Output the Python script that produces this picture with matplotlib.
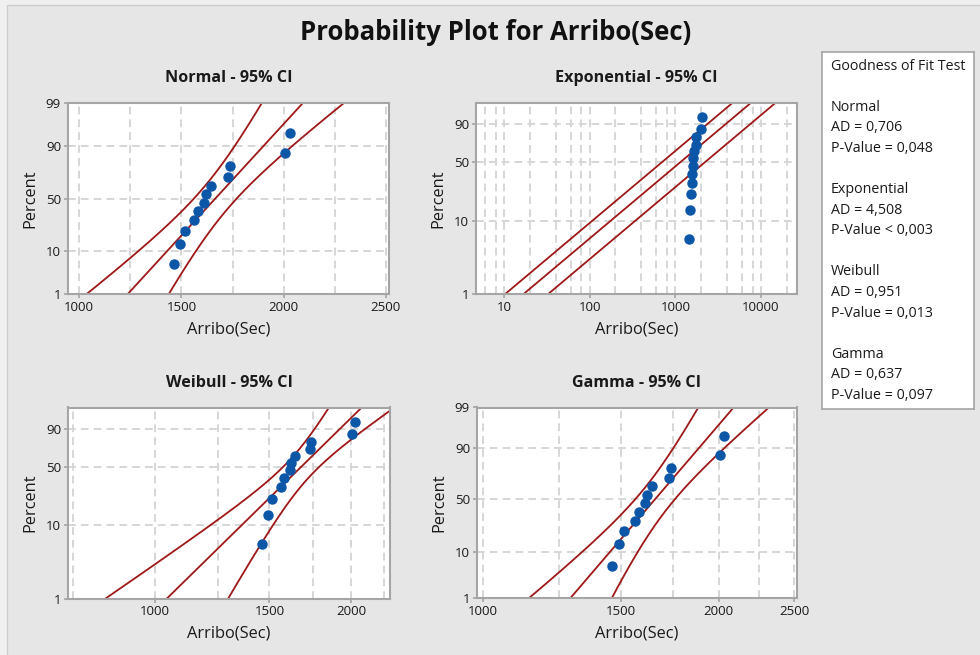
"""
Probability plot (Minitab style) for Arribo(Sec): Normal, Exponential,
Weibull and Gamma fits with 95% confidence bands.
"""

from statistics import NormalDist

import matplotlib

matplotlib.use("Agg")
import matplotlib.pyplot as plt
import numpy as np
from matplotlib.patches import Rectangle
from matplotlib.ticker import NullFormatter

plt.rcParams["font.family"] = ["Open Sans", "DejaVu Sans"]

arribo = [1463, 1491, 1515, 1563, 1580, 1612, 1620, 1643, 1728, 1736, 2006, 2030]

# Goodness of fit box
dist_names = ["Normal", "Exponential", "Weibull", "Gamma"]
ad_values = [0.706, 4.508, 0.951, 0.637]
p_signs = ["=", "<", "=", "="]
p_values = [0.048, 0.003, 0.013, 0.097]

# Axis ticks
pct_ticks_full = [1, 10, 50, 90, 99]
pct_ticks_short = [1, 10, 50, 90]
lin_ticks = [1000, 1500, 2000, 2500]
lin_grid = [1250, 1750, 2250]
weib_ticks = [1000, 1500, 2000]
weib_grid = [750, 1250, 1750, 2250]
exp_ticks = [10, 100, 1000, 10000]
exp_grid = [m * 10**d for d in range(0, 5) for m in (2, 4, 6, 8)]

BG = "#e6e6e6"
DOT = "#0b56a6"
RED = "#9e1818"
GRID = "#d6d6d6"
SPINE = "#a5a5a5"

ND = NormalDist()
_inv = np.vectorize(ND.inv_cdf, otypes=[float])
_cdf = np.vectorize(ND.cdf, otypes=[float])
Z975 = ND.inv_cdf(0.975)


# Probability scales (percent -> transformed)
def pct_to_z(p):
    p = np.clip(np.asarray(p, float) / 100.0, 1e-9, 1 - 1e-9)
    return _inv(p)


def z_to_pct(z):
    return _cdf(np.asarray(z, float)) * 100.0


def pct_to_sev(p):
    p = np.clip(np.asarray(p, float) / 100.0, 1e-12, 1 - 1e-12)
    return np.log(-np.log1p(-p))


def sev_to_pct(w):
    return -np.expm1(-np.exp(np.asarray(w, float))) * 100.0


def digamma(k):
    r = 0.0
    while k < 6:
        r -= 1 / k
        k += 1
    f = 1 / (k * k)
    return r + np.log(k) - 0.5 / k - f * (1 / 12 - f * (1 / 120 - f / 252))


def trigamma(k):
    r = 0.0
    while k < 6:
        r += 1 / (k * k)
        k += 1
    f = 1 / (k * k)
    return r + 1 / k + f / 2 + f / k * (1 / 6 - f * (1 / 30 - f / 42))


def chi2_q(q, df):
    z = ND.inv_cdf(q)
    return df * (1 - 2 / (9 * df) + z * np.sqrt(2 / (9 * df))) ** 3


def gamma_lnq(p, k):
    c = 1 / (9 * k)
    return np.log(k) + 3 * np.log(1 - c + pct_to_z(p) * np.sqrt(c))


# ---- fits ----
x = np.sort(np.asarray(arribo, float))
n = x.size
pos = (np.arange(1, n + 1) - 0.3) / (n + 0.4) * 100  # median ranks
p_line = z_to_pct(np.linspace(-3.3, 3.3, 300))
lx = np.log(x)

# Normal
mu, sd = x.mean(), x.std(ddof=1)
zp = pct_to_z(p_line)
norm_mid = mu + zp * sd
norm_se = sd * np.sqrt(1 / n + zp**2 / (2 * n))
norm_lines = [norm_mid - Z975 * norm_se, norm_mid, norm_mid + Z975 * norm_se]

# Exponential
theta = x.mean()
e = -np.log1p(-p_line / 100)
th_lo = 2 * n * theta / chi2_q(0.975, 2 * n)
th_hi = 2 * n * theta / chi2_q(0.025, 2 * n)
exp_lines = [th_lo * e, theta * e, th_hi * e]

# Weibull (MLE)
y = x / x.max()


def weib_score(b):
    yb = y**b
    return (yb * lx).sum() / yb.sum() - 1 / b - lx.mean()


lo, hi = 0.1, 200.0
for _ in range(100):
    mid = 0.5 * (lo + hi)
    if weib_score(mid) > 0:
        hi = mid
    else:
        lo = mid
beta = 0.5 * (lo + hi)
alpha = x.max() * np.mean(y**beta) ** (1 / beta)
u, bsev = np.log(alpha), 1 / beta
w = pct_to_sev(p_line)
weib_mid = u + w * bsev
weib_se = bsev * np.sqrt((1.1087 + 0.5140 * w + 0.6079 * w**2) / n)
weib_lines = [np.exp(weib_mid - Z975 * weib_se), np.exp(weib_mid),
              np.exp(weib_mid + Z975 * weib_se)]

# Gamma (MLE)
s = np.log(x.mean()) - lx.mean()
k = (3 - s + np.sqrt((s - 3) ** 2 + 24 * s)) / (12 * s)
for _ in range(20):
    k -= (np.log(k) - digamma(k) - s) / (1 / k - trigamma(k))
theta_g = x.mean() / k
lq = gamma_lnq(p_line, k)
dk = 1e-4 * k
dlq = (gamma_lnq(p_line, k + dk) - gamma_lnq(p_line, k - dk)) / (2 * dk)
info = n * np.array([[trigamma(k), 1 / theta_g], [1 / theta_g, k / theta_g**2]])
cov = np.linalg.inv(info)
g_var = cov[0, 0] * dlq**2 + 2 * cov[0, 1] * dlq / theta_g + cov[1, 1] / theta_g**2
g_mid = np.log(theta_g) + lq
g_se = np.sqrt(g_var)
gamma_lines = [np.exp(g_mid - Z975 * g_se), np.exp(g_mid), np.exp(g_mid + Z975 * g_se)]


def gamma_fwd(p):
    return gamma_lnq(p, k)


def gamma_inv(t):
    c = 1 / (9 * k)
    z = (np.exp((np.asarray(t, float) - np.log(k)) / 3) - 1 + c) / np.sqrt(c)
    return z_to_pct(z)


# ---- figure ----
W, H = 980, 655
fig = plt.figure(figsize=(W / 100, H / 100), dpi=100, facecolor="#f0f0f0")
fig.patches.append(
    Rectangle((7 / W, -0.02), 1.1, 1.02 - 5 / H, transform=fig.transFigure,
              facecolor=BG, edgecolor="#cdcdcd", linewidth=1.0, zorder=-10)
)


def px_axes(x0, top, wd, ht):
    return fig.add_axes([x0 / W, 1 - (top + ht) / H, wd / W, ht / H])


def draw_panel(ax, title, lines, yscale, yticks, xlog, xlim, xticks, xgrid):
    ax.set_facecolor("white")
    ax.set_axisbelow(True)
    ax.set_yscale("function", functions=yscale)
    if xlog:
        ax.set_xscale("log")
    for ln in lines:
        ax.plot(ln, p_line, color=RED, lw=1.3, zorder=2)
    ax.plot(x, pos, "o", color=DOT, ms=6.5, zorder=3)
    ax.set_xticks(xticks, [str(t) for t in xticks])
    ax.set_xticks(xgrid, minor=True)
    ax.xaxis.set_minor_formatter(NullFormatter())
    ax.set_yticks(yticks, [str(t) for t in yticks])
    ax.set_xlim(*xlim)
    ax.set_ylim(1, 99)
    ax.grid(True, which="both", axis="x", color=GRID, lw=1.4, ls=(0, (4, 2.6)))
    ax.grid(True, which="major", axis="y", color=GRID, lw=1.4, ls=(0, (4, 2.6)))
    ax.tick_params(which="major", colors=SPINE, labelcolor="#1a1a1a",
                   length=3, width=1.2, pad=2, labelsize=9.5)
    ax.tick_params(which="minor", length=0)
    for sp in ax.spines.values():
        sp.set_color(SPINE)
        sp.set_linewidth(1.5)
    ax.set_xlabel("Arribo(Sec)", fontsize=11.8, color="#1a1a1a")
    ax.set_ylabel("Percent", fontsize=11.8, color="#1a1a1a")
    ax.xaxis.set_label_coords(0.5, -0.142)
    ax.yaxis.set_label_coords(-0.093, 0.5)
    ax.text(0.5, 1.13, title, transform=ax.transAxes, ha="center", va="center",
            fontsize=11.6, fontweight="bold", color="#1a1a1a")


ax_n = px_axes(68, 102.7, 321, 191.6)
draw_panel(ax_n, "Normal - 95% CI", norm_lines, (pct_to_z, z_to_pct),
           pct_ticks_full, False, (945, 2515), lin_ticks, lin_grid)

ax_e = px_axes(476, 102.7, 320.5, 191.6)
draw_panel(ax_e, "Exponential - 95% CI", exp_lines, (pct_to_sev, sev_to_pct),
           pct_ticks_short, True, (4.7, 26000), exp_ticks, exp_grid)

ax_w = px_axes(68, 407.5, 322, 191)
draw_panel(ax_w, "Weibull - 95% CI", weib_lines, (pct_to_sev, sev_to_pct),
           pct_ticks_short, True, (737, 2295), weib_ticks, weib_grid)

ax_g = px_axes(477, 407.5, 319.5, 190.5)
draw_panel(ax_g, "Gamma - 95% CI", gamma_lines, (gamma_fwd, gamma_inv),
           pct_ticks_full, True, (982, 2515), lin_ticks, lin_grid)

fig.text(496 / W, 1 - 32 / H, "Probability Plot for Arribo(Sec)", ha="center",
         va="center", fontsize=18.5, fontweight="bold", color="#111111")

# Goodness of fit box
box = px_axes(822, 52, 152, 357)
box.set_facecolor("white")
box.set_xticks([])
box.set_yticks([])
for sp in box.spines.values():
    sp.set_color(SPINE)
    sp.set_linewidth(1.2)

rows = ["Goodness of Fit Test", ""]
for name, ad, sign, pv in zip(dist_names, ad_values, p_signs, p_values):
    rows += [name, f"AD = {ad:.3f}".replace(".", ","),
             f"P-Value {sign} {pv:.3f}".replace(".", ","), ""]
for i, row in enumerate(rows):
    if row:
        fig.text(831 / W, 1 - (66 + i * 20.6) / H, row, ha="left", va="center",
                 fontsize=10.3, color="#1a1a1a")

fig.savefig("out.png", dpi=100, facecolor=fig.get_facecolor())
